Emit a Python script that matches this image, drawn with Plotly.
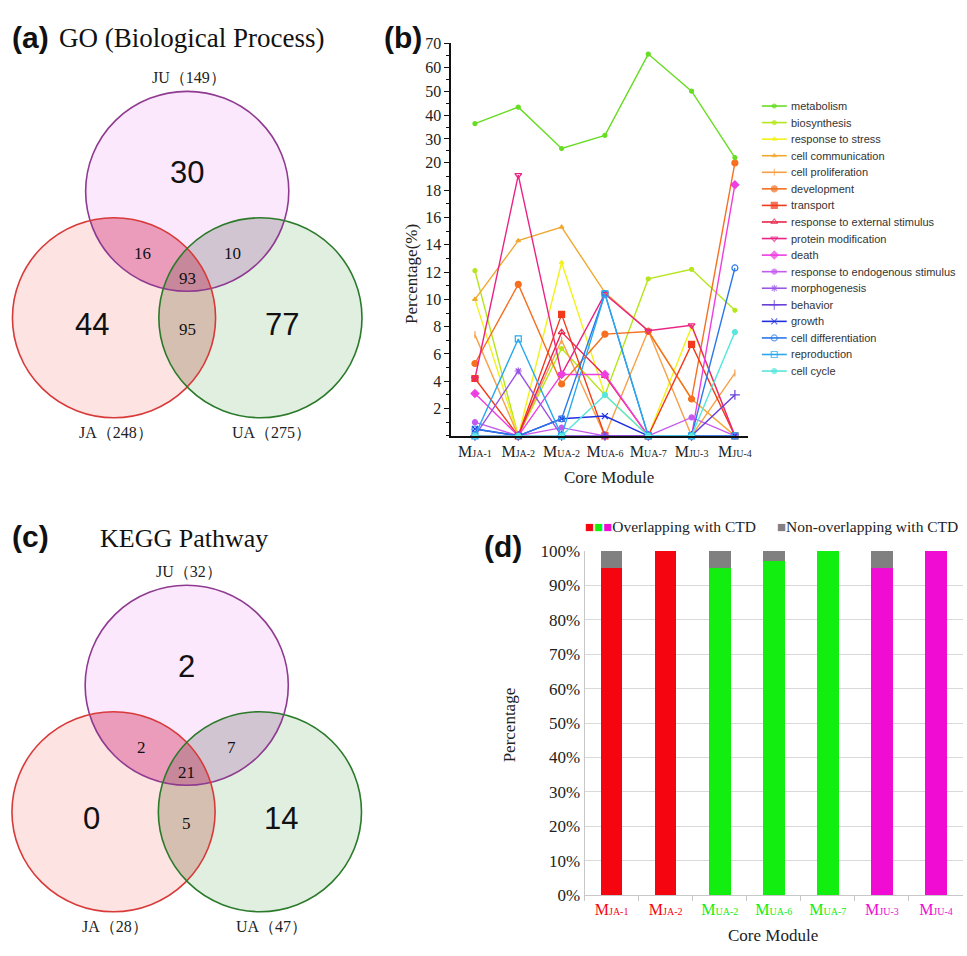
import numpy as np
import plotly.graph_objects as go

W, H = 967, 956
SERIF = "Liberation Serif, Times New Roman, serif"
SANS = "Liberation Sans, Arial, sans-serif"

# ---------------- data ----------------
modules = ["MJA-1", "MJA-2", "MUA-2", "MUA-6", "MUA-7", "MJU-3", "MJU-4"]
module_codes = ["JA-1", "JA-2", "UA-2", "UA-6", "UA-7", "JU-3", "JU-4"]
module_group = ["JA", "JA", "UA", "UA", "UA", "JU", "JU"]

go_terms = ["metabolism", "biosynthesis", "response to stress", "cell communication",
            "cell proliferation", "development", "transport", "response to external stimulus",
            "protein modification", "death", "response to endogenous stimulus", "morphogenesis",
            "behavior", "growth", "cell differentiation", "reproduction", "cell cycle"]

metabolism = [36.4, 43.3, 26.0, 31.5, 65.5, 50.0, 22.2]
biosynthesis = [12.1, 0, 6.4, 3.0, 11.5, 12.2, 9.2]
response_to_stress = [10.0, 0, 12.7, 3.0, 0, 8.0, 0]
cell_communication = [10.0, 14.3, 15.3, 10.5, 7.7, 2.7, 0]
cell_proliferation = [7.4, 0, 7.0, 0, 7.7, 0, 4.6]
development = [5.3, 11.1, 3.8, 7.45, 7.65, 2.7, 20.0]
transport = [4.2, 0, 8.9, 0, 0, 6.7, 0]
response_to_external_stimulus = [0, 0, 7.6, 4.4, 0, 0, 0]
protein_modification = [4.2, 19.1, 4.5, 10.4, 7.7, 8.1, 0]
death = [3.1, 0, 4.5, 4.5, 0, 0, 18.4]
response_to_endogenous_stimulus = [1.0, 0, 0.6, 0, 0, 1.35, 0]
morphogenesis = [0, 4.75, 0, 0, 0, 0, 0]
behavior = [0, 0, 0, 0, 0, 0, 3.0]
growth = [0.5, 0, 1.25, 1.45, 0, 0, 0]
cell_differentiation = [0.5, 0, 1.25, 10.4, 0, 0, 12.3]
reproduction = [0, 7.1, 0, 10.4, 0, 0, 0]
cell_cycle = [0, 0, 0, 3.0, 0, 0, 7.6]

go_values = [metabolism, biosynthesis, response_to_stress, cell_communication,
             cell_proliferation, development, transport, response_to_external_stimulus,
             protein_modification, death, response_to_endogenous_stimulus, morphogenesis,
             behavior, growth, cell_differentiation, reproduction, cell_cycle]

overlap_pct = [95.2, 100, 95.2, 97.2, 100, 95.2, 100]
nonoverlap_pct = [4.8, 0, 4.8, 2.8, 0, 4.8, 0]

venn_sets = ["JU", "JA", "UA"]
go_set_sizes = [149, 248, 275]
go_only = [30, 44, 77]           # JU, JA, UA only
go_pairs = [16, 10, 95]          # JU&JA, JU&UA, JA&UA
go_all = 93
kegg_set_sizes = [32, 28, 47]
kegg_only = [2, 0, 14]
kegg_pairs = [2, 7, 5]
kegg_all = 21

# ---------------- styles ----------------
term_styles = {
    "metabolism": ("#66dd22", "circle", 4),
    "biosynthesis": ("#b5e61d", "circle", 4),
    "response to stress": ("#f2f21a", "triangle-up", 4),
    "cell communication": ("#f0a830", "triangle-up", 4),
    "cell proliferation": ("#f7a048", "line-ns-open", 5),
    "development": ("#f57020", "circle", 6),
    "transport": ("#f23a1a", "square", 6),
    "response to external stimulus": ("#e8244a", "triangle-up-open", 6),
    "protein modification": ("#ea2385", "triangle-down-open", 6),
    "death": ("#ee3ee0", "diamond", 6),
    "response to endogenous stimulus": ("#c45af0", "circle", 5),
    "morphogenesis": ("#9a55e6", "asterisk-open", 6),
    "behavior": ("#6840d8", "cross-thin-open", 7),
    "growth": ("#2030e0", "x-thin-open", 6),
    "cell differentiation": ("#2a78ea", "circle-open", 6),
    "reproduction": ("#28a8ee", "square-open", 6),
    "cell cycle": ("#5ae6dc", "circle", 5),
}
group_colors = {"JA": "#f5050f", "UA": "#12ee10", "JU": "#f00cd2"}


def px_x(p):
    return p / W


def px_y(p):
    return 1 - p / H


fig = go.Figure()

# ---------------- panel (b) ----------------
b_ticktext = [f"M<span style='font-size:10px'>{c}</span>" for c in module_codes]
for term, vals in zip(go_terms, go_values):
    col, sym, sz = term_styles[term]
    upper = max(vals) > 20
    fig.add_trace(go.Scatter(
        x=modules, y=vals, mode="lines+markers", name=term, showlegend=False,
        xaxis="x", yaxis="y2" if upper else "y",
        line=dict(color=col, width=1.4),
        marker=dict(symbol=sym, size=sz, color=col, line=dict(color=col, width=1.2)),
        cliponaxis=False,
    ))

# manual legend for (b) on overlay pixel axis
leg_y0, leg_dy = 99, 16.9
for i, term in enumerate(go_terms):
    col, sym, sz = term_styles[term]
    yy = leg_y0 + i * leg_dy
    fig.add_trace(go.Scatter(
        x=[765, 777.5, 790], y=[yy, yy, yy], mode="lines+markers", showlegend=False,
        xaxis="x3", yaxis="y4", hoverinfo="skip",
        line=dict(color=col, width=1.6),
        marker=dict(symbol=sym, size=[0, sz, 0], color=col, line=dict(color=col, width=1.2)),
    ))

# ---------------- panel (d) ----------------
d_ticktext = [f"<span style='color:{group_colors[g]}'>M<span style='font-size:10px'>{c}</span></span>"
              for g, c in zip(module_group, module_codes)]
fig.add_trace(go.Bar(x=modules, y=overlap_pct, xaxis="x2", yaxis="y3", showlegend=False,
                     marker=dict(color=[group_colors[g] for g in module_group], line=dict(width=0)),
                     width=0.4))
fig.add_trace(go.Bar(x=modules, y=nonoverlap_pct, xaxis="x2", yaxis="y3", showlegend=False,
                     marker=dict(color="#808080", line=dict(width=0)), width=0.4))

# ---------------- Venn diagrams ----------------
shapes = []
annotations = []

venn_fill = {"JU": "rgba(235,100,235,0.15)", "JA": "rgba(240,80,70,0.16)", "UA": "rgba(40,140,40,0.14)"}
venn_edge = {"JU": "#8e3a90", "JA": "#d83a3a", "UA": "#2a7a2a"}
lens_fill = {("JU", "JA"): "rgba(205,60,120,0.34)",
             ("JU", "UA"): "rgba(160,110,160,0.20)",
             ("JA", "UA"): "rgba(180,120,110,0.25)"}


def lens_path(c1, c2, r, n=48):
    x1, y1 = c1
    x2, y2 = c2
    d = np.hypot(x2 - x1, y2 - y1)
    phi = np.arctan2(y2 - y1, x2 - x1)
    a = np.arccos(d / (2 * r))
    t1 = np.linspace(phi - a, phi + a, n)
    t2 = np.linspace(phi + np.pi - a, phi + np.pi + a, n)
    xs = np.concatenate([x1 + r * np.cos(t1), x2 + r * np.cos(t2)])
    ys = np.concatenate([y1 + r * np.sin(t1), y2 + r * np.sin(t2)])
    return "M " + " L ".join(f"{x:.2f},{y:.2f}" for x, y in zip(xs, ys)) + " Z"


def draw_venn(cx, cy, sizes, only, pairs, allc, r=102, dx=73.5, dy=129):
    centers = {"JU": (cx, cy), "JA": (cx - dx, cy + dy), "UA": (cx + dx, cy + dy)}
    for s in venn_sets:
        x0, y0 = centers[s]
        shapes.append(dict(type="circle", xref="x3", yref="y4", x0=x0 - r, x1=x0 + r,
                           y0=y0 - r, y1=y0 + r, fillcolor=venn_fill[s], line=dict(width=0)))
    for (a, b), fc in lens_fill.items():
        shapes.append(dict(type="path", xref="x3", yref="y4", path=lens_path(centers[a], centers[b], r),
                           fillcolor=fc, line=dict(width=0)))
    for s in venn_sets:
        x0, y0 = centers[s]
        shapes.append(dict(type="circle", xref="x3", yref="y4", x0=x0 - r, x1=x0 + r,
                           y0=y0 - r, y1=y0 + r, fillcolor="rgba(0,0,0,0)",
                           line=dict(color=venn_edge[s], width=1.6)))
    big = dict(family=SANS, size=31, color="#111")
    small = dict(family=SERIF, size=17, color="#111")
    lab = dict(family=SERIF, size=16, color="#222")
    pos_only = [(cx, cy - 19), (cx - 96, cy + 136), (cx + 95, cy + 136)]
    for (x, y), v in zip(pos_only, only):
        annotations.append(dict(x=x, y=y, xref="x3", yref="y4", text=str(v), showarrow=False, font=big))
    pos_pair = [(cx - 45, cy + 63), (cx + 45, cy + 63), (cx, cy + 141)]
    for (x, y), v in zip(pos_pair, pairs):
        annotations.append(dict(x=x, y=y, xref="x3", yref="y4", text=str(v), showarrow=False, font=small))
    annotations.append(dict(x=cx, y=cy + 89, xref="x3", yref="y4", text=str(allc), showarrow=False, font=small))
    pos_lab = [(cx + 2, cy - r - 14), (cx - 72, cy + dy + r + 15), (cx + 85, cy + dy + r + 15)]
    for (x, y), s, n in zip(pos_lab, venn_sets, sizes):
        annotations.append(dict(x=x, y=y, xref="x3", yref="y4", text=f"{s}（{n}）",
                                showarrow=False, font=lab))


draw_venn(188, 186, go_set_sizes, go_only, go_pairs, go_all)
draw_venn(187.5, 690, kegg_set_sizes, kegg_only, kegg_pairs, kegg_all)

# ---------------- titles & labels ----------------
def ann_px(x, y, text, font, xanchor="center", angle=0):
    annotations.append(dict(x=px_x(x), y=px_y(y), xref="paper", yref="paper", text=text,
                            showarrow=False, font=font, xanchor=xanchor, yanchor="middle",
                            textangle=angle))


plab = dict(family=SANS, size=30, color="#111")
ann_px(10, 29, "<b>(a)</b>", plab, "left")
ann_px(57, 30, "GO (Biological Process)", dict(family=SERIF, size=27, color="#111"), "left")
ann_px(384, 29, "<b>(b)</b>", plab, "left")
ann_px(10, 538, "<b>(c)</b>", plab, "left")
ann_px(185, 540, "KEGG Pathway", dict(family=SERIF, size=26, color="#111"))
ann_px(484, 548, "<b>(d)</b>", plab, "left")

axfont = dict(family=SERIF, size=17, color="#222")
ann_px(413, 270, "Percentage(%)", axfont, angle=-90)
ann_px(612, 478, "Core Module", axfont)
ann_px(512, 730, "Percentage", axfont, angle=-90)
ann_px(776, 945, "Core Module", axfont)

for i, term in enumerate(go_terms):
    ann_px(792, leg_y0 + i * leg_dy, term, dict(family=SANS, size=11, color="#333"), "left")

sq = "<span style='font-size:15px'>■</span>"
ann_px(585, 528, f"<span style='color:{group_colors['JA']}'>{sq}</span><span style='color:{group_colors['UA']}'>{sq}</span>"
       f"<span style='color:{group_colors['JU']}'>{sq}</span>Overlapping with CTD",
       dict(family=SERIF, size=15.5, color="#222"), "left")
ann_px(964, 528, f"<span style='color:#808080'>{sq}</span>Non-overlapping with CTD",
       dict(family=SERIF, size=15.5, color="#222"), "right")

# ---------------- layout ----------------
tickfont = dict(family=SERIF, size=16, color="#222")
b_x0, b_x1 = 453, 751
y_zero, y_twenty, y_seventy = 435.5, 157, 35

fig.update_layout(
    width=W, height=H, margin=dict(l=0, r=0, t=0, b=0),
    paper_bgcolor="white", plot_bgcolor="rgba(0,0,0,0)",
    barmode="stack", showlegend=False,
    shapes=shapes, annotations=annotations,
    xaxis=dict(domain=[px_x(b_x0), px_x(b_x1)], anchor="y", type="category",
               categoryorder="array", categoryarray=modules,
               range=[-0.55, 6.3], tickvals=modules, ticktext=b_ticktext,
               showline=True, linecolor="#111", linewidth=1.5, ticks="", showgrid=False,
               tickfont=tickfont, zeroline=False),
    yaxis=dict(domain=[px_y(y_zero), px_y(y_twenty)], anchor="x", range=[0, 20],
               tickmode="array", tickvals=list(range(2, 20, 2)),
               showline=True, linecolor="#111", linewidth=1.5, ticks="outside",
               ticklen=5, tickcolor="#111", showgrid=False, zeroline=False, tickfont=tickfont,
               minor=dict(dtick=1, tick0=0, ticks="outside", ticklen=3, tickcolor="#111", showgrid=False)),
    yaxis2=dict(domain=[px_y(y_twenty), px_y(y_seventy)], anchor="x", range=[20, 70],
                tickmode="array", tickvals=list(range(20, 71, 10)),
                showline=True, linecolor="#111", linewidth=1.5, ticks="outside",
                ticklen=5, tickcolor="#111", showgrid=False, zeroline=False, tickfont=tickfont,
                minor=dict(dtick=5, tick0=0, ticks="outside", ticklen=3, tickcolor="#111", showgrid=False)),
    xaxis2=dict(domain=[px_x(587), 1.0], anchor="y3", type="category",
                categoryorder="array", categoryarray=modules, range=[-0.5, 6.5],
                tickvals=modules, ticktext=d_ticktext, showline=True, linecolor="#c8c8c8",
                ticks="outside", tickson="boundaries", ticklen=5, tickcolor="#c8c8c8",
                showgrid=False, tickfont=tickfont),
    yaxis3=dict(domain=[px_y(904), px_y(553)], anchor="x2", range=[0, 100], dtick=10,
                ticksuffix="%", showline=True, linecolor="#c8c8c8", showgrid=True,
                gridcolor="#d9d9d9", gridwidth=1, zeroline=False,
                tickfont=dict(family=SERIF, size=17, color="#222")),
    xaxis3=dict(domain=[0, 1], anchor="y4", range=[0, W], visible=False, fixedrange=True),
    yaxis4=dict(domain=[0, 1], anchor="x3", range=[H, 0], visible=False, fixedrange=True),
)

fig.write_html("out.html")
